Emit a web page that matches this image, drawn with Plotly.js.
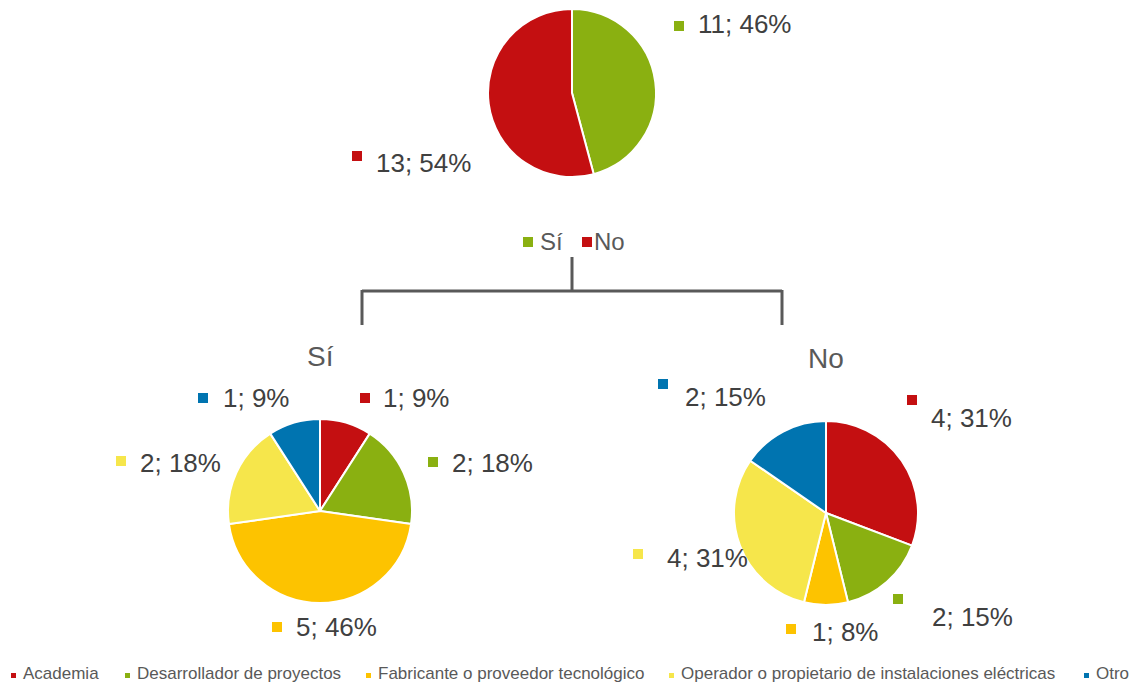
<!DOCTYPE html>
<html>
<head>
<meta charset="utf-8">
<script src="https://cdn.plot.ly/plotly-3.0.1.min.js"></script>
<style>html,body{margin:0;padding:0;background:#fff;}#chart{width:1131px;height:684px;}</style>
</head>
<body>
<div id="chart"></div>
<script>
// ---------- DATA ----------
const topLabels = ["Sí", "No"];
const topValues = [11, 13];
const categories = ["Academia", "Desarrollador de proyectos", "Fabricante o proveedor tecnológico", "Operador o propietario de instalaciones eléctricas", "Otro"];
const siValues = [1, 2, 5, 2, 1];
const noValues = [4, 2, 1, 4, 2];
const groupTitles = ["Sí", "No"];

// ---------- STYLE / LAYOUT ----------
const W = 1131, H = 684;
const topColors = ["#8AB011", "#C40F11"];
const catColors = ["#C40F11", "#8AB011", "#FDC300", "#F6E64B", "#0074B0"];
const FONT = "Liberation Sans, Arial, sans-serif";
const X = x => x / W;
const Y = y => 1 - y / H;

// pie boxes in pixels: [left, top, size]
const topBox = [488, 9, 168];
const siBox = [228, 419, 184];
const noBox = [734, 421, 184];
function dom(b) { return { x: [X(b[0]), X(b[0] + b[2])], y: [Y(b[1] + b[2]), Y(b[1])] }; }

// label placement (pixels): square top-left and text left/center
const topLabelPos = [{ sq: [674, 21], tx: [697, 24] }, { sq: [352, 151], tx: [375, 163] }];
const siLabelPos = [
  { sq: [360, 393], tx: [382, 398] },
  { sq: [428, 457], tx: [451, 463] },
  { sq: [272, 622], tx: [295, 627] },
  { sq: [116, 456], tx: [139, 463] },
  { sq: [198, 393], tx: [222, 398] }
];
const noLabelPos = [
  { sq: [907, 395], tx: [930, 418] },
  { sq: [893, 594], tx: [931, 617] },
  { sq: [786, 624], tx: [811, 632] },
  { sq: [633, 549], tx: [666, 558] },
  { sq: [658, 379], tx: [684, 397] }
];
const legendTextX = [22, 136, 377, 680, 1095];

// percentages with largest remainder rounding (sum to 100)
function pcts(vals) {
  const tot = vals.reduce((a, b) => a + b, 0);
  const raw = vals.map(v => v / tot * 100);
  const fl = raw.map(Math.floor);
  let left = 100 - fl.reduce((a, b) => a + b, 0);
  const order = raw.map((r, i) => [r - fl[i], i]).sort((a, b) => b[0] - a[0]);
  for (let k = 0; k < left; k++) fl[order[k][1]]++;
  return fl;
}

function pieTrace(labels, values, colors, box) {
  return {
    type: "pie", labels: labels, values: values, sort: false, direction: "clockwise", rotation: 0,
    marker: { colors: colors, line: { color: "#ffffff", width: 2 } },
    textinfo: "none", hoverinfo: "label+value+percent", showlegend: false, domain: dom(box)
  };
}

const data = [
  pieTrace(topLabels, topValues, topColors, topBox),
  pieTrace(categories, siValues, catColors, siBox),
  pieTrace(categories, noValues, catColors, noBox)
];

const shapes = [];
const annotations = [];
function sq(x, y, s, color) {
  shapes.push({ type: "rect", xref: "paper", yref: "paper", x0: X(x), x1: X(x + s), y0: Y(y + s), y1: Y(y), fillcolor: color, line: { width: 0 } });
}
function txt(x, y, t, size, color, anchor) {
  annotations.push({ xref: "paper", yref: "paper", x: X(x), y: Y(y), xanchor: anchor || "left", yanchor: "middle", text: t, showarrow: false, borderpad: 0, font: { family: FONT, size: size, color: color } });
}
function labelSet(values, colors, pos) {
  const p = pcts(values);
  values.forEach((v, i) => {
    sq(pos[i].sq[0], pos[i].sq[1], 10, colors[i]);
    txt(pos[i].tx[0], pos[i].tx[1], v + "; " + p[i] + "%", 26, "#404040");
  });
}
labelSet(topValues, topColors, topLabelPos);
labelSet(siValues, catColors, siLabelPos);
labelSet(noValues, catColors, noLabelPos);

// top legend (Sí / No)
sq(523, 237, 10, topColors[0]);
txt(539, 241, topLabels[0], 24, "#595959");
sq(582, 237, 10, topColors[1]);
txt(593, 241, topLabels[1], 24, "#595959");

// tree connector
const lc = { color: "#595959", width: 3 };
function seg(x0, y0, x1, y1) { shapes.push({ type: "line", xref: "paper", yref: "paper", x0: X(x0), y0: Y(y0), x1: X(x1), y1: Y(y1), line: lc }); }
seg(572, 257, 572, 291);
seg(362, 291, 782, 291);
seg(362, 290, 362, 325);
seg(782, 290, 782, 325);

// group titles
txt(320, 356, groupTitles[0], 28, "#595959", "center");
txt(826, 358, groupTitles[1], 28, "#595959", "center");

// bottom legend
categories.forEach((c, i) => {
  sq(legendTextX[i] - 11, 673, 5, catColors[i]);
  txt(legendTextX[i], 673, c, 17, "#595959");
});

const layout = {
  width: W, height: H, margin: { l: 0, r: 0, t: 0, b: 0 },
  paper_bgcolor: "#ffffff", plot_bgcolor: "#ffffff",
  showlegend: false, shapes: shapes, annotations: annotations,
  font: { family: FONT }
};
Plotly.newPlot("chart", data, layout, { displayModeBar: false, staticPlot: true });
</script>
</body>
</html>
